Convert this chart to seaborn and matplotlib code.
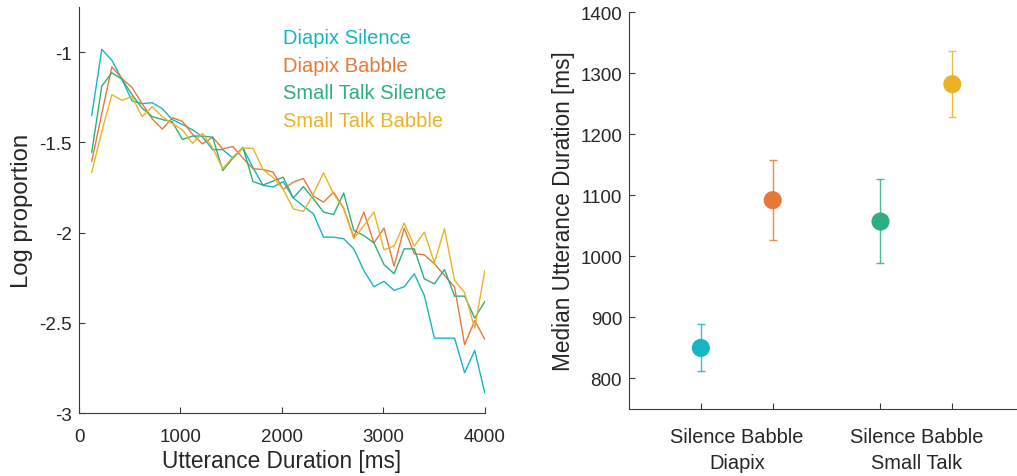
import numpy as np
import pandas as pd
import matplotlib
matplotlib.use("Agg")
import matplotlib.pyplot as plt
import seaborn as sns

# Utterance-duration histogram bins (ms) and log proportions per condition
durations = np.linspace(125, 4000, 40)

diapix_silence = [-1.352, -0.984, -1.045, -1.150, -1.270, -1.285, -1.280, -1.313, -1.374, -1.400,
                  -1.430, -1.470, -1.540, -1.540, -1.587, -1.530, -1.640, -1.738, -1.747, -1.718,
                  -1.808, -1.853, -1.896, -2.025, -2.025, -2.034, -2.090, -2.210, -2.300, -2.270,
                  -2.320, -2.300, -2.228, -2.349, -2.585, -2.585, -2.585, -2.777, -2.653, -2.888]
diapix_babble = [-1.606, -1.340, -1.081, -1.146, -1.196, -1.285, -1.369, -1.426, -1.364, -1.383,
                 -1.455, -1.508, -1.471, -1.536, -1.523, -1.587, -1.646, -1.650, -1.665, -1.760,
                 -1.720, -1.700, -1.798, -1.831, -1.776, -1.864, -2.025, -1.886, -2.057, -1.975,
                 -2.186, -1.975, -2.117, -2.123, -2.173, -2.237, -2.302, -2.621, -2.487, -2.592]
smalltalk_silence = [-1.556, -1.188, -1.114, -1.150, -1.235, -1.310, -1.357, -1.373, -1.386, -1.484,
                     -1.465, -1.465, -1.471, -1.656, -1.587, -1.527, -1.717, -1.736, -1.714, -1.693,
                     -1.808, -1.745, -1.813, -1.886, -1.900, -1.780, -1.988, -2.016, -2.057, -2.177,
                     -2.228, -2.090, -2.090, -2.256, -2.284, -2.204, -2.352, -2.352, -2.474, -2.382]
smalltalk_babble = [-1.667, -1.440, -1.235, -1.267, -1.246, -1.357, -1.302, -1.357, -1.396, -1.430,
                    -1.505, -1.450, -1.530, -1.646, -1.580, -1.532, -1.532, -1.650, -1.695, -1.760,
                    -1.868, -1.883, -1.785, -1.669, -1.785, -1.868, -2.034, -1.961, -1.886, -2.095,
                    -2.075, -1.947, -2.075, -1.997, -2.167, -1.979, -2.265, -2.333, -2.529, -2.210]

condition_names = ["Diapix Silence", "Diapix Babble", "Small Talk Silence", "Small Talk Babble"]
colors = ["#14B6C4", "#E7783A", "#2DAE7F", "#EDB224"]

# Median utterance duration with confidence bounds
tasks = ["Diapix", "Small Talk"]
conditions = ["Silence", "Babble"]
median_ms = [850, 1092, 1057, 1282]
lower_ms = [812, 1026, 989, 1228]
upper_ms = [890, 1158, 1126, 1336]

sns.set_theme(style="ticks")
plt.rcParams["font.family"] = ["Liberation Sans", "DejaVu Sans"]
ink = "#262626"
plt.rcParams.update({
    "axes.edgecolor": "#3a3a3a",
    "axes.linewidth": 0.8,
    "xtick.color": "#3a3a3a",
    "ytick.color": "#3a3a3a",
    "xtick.labelcolor": ink,
    "ytick.labelcolor": ink,
    "axes.labelcolor": ink,
    "xtick.direction": "in",
    "ytick.direction": "in",
    "xtick.major.size": 4,
    "ytick.major.size": 4,
    "xtick.major.width": 0.8,
    "ytick.major.width": 0.8,
})

fig = plt.figure(figsize=(10.17, 4.77), dpi=100)
ax1 = fig.add_axes([0.0777, 0.132, 0.399, 0.851])
ax2 = fig.add_axes([0.6185, 0.1405, 0.3815, 0.832])

# Left: distribution of utterance durations
series = [diapix_silence, diapix_babble, smalltalk_silence, smalltalk_babble]
long_df = pd.concat(
    [pd.DataFrame({"duration": durations, "logp": vals, "condition": name})
     for name, vals in zip(condition_names, series)],
    ignore_index=True,
)
sns.lineplot(data=long_df, x="duration", y="logp", hue="condition",
             hue_order=condition_names, palette=colors, linewidth=1.0, ax=ax1)
ax1.set_xlim(0, 4000)
ax1.set_ylim(-3, -0.75)
ax1.set_xticks([0, 1000, 2000, 3000, 4000])
ax1.set_yticks([-3, -2.5, -2, -1.5, -1])
ax1.set_yticklabels(["-3", "-2.5", "-2", "-1.5", "-1"])
ax1.tick_params(axis="y", labelsize=13.5, pad=5)
ax1.tick_params(axis="x", labelsize=13.5, pad=11)
ax1.set_xlabel("Utterance Duration [ms]", fontsize=16.3, labelpad=3)
ax1.set_ylabel("Log proportion", fontsize=17.2, labelpad=5)
sns.despine(ax=ax1)

handles, labels = ax1.get_legend_handles_labels()
for h in handles:
    h.set_visible(False)
ax1.legend(handles, labels, loc="upper left", bbox_to_anchor=(0.483, 0.968),
           frameon=False, handlelength=0, handletextpad=0, labelspacing=0.42,
           fontsize=14.5, labelcolor=colors, borderaxespad=0)

# Right: medians with error bars
positions = [ti * 2.5 + ci + 1 for ti in range(len(tasks)) for ci in range(len(conditions))]
point_df = pd.DataFrame({"pos": positions, "median": median_ms, "condition": condition_names})
for x, m, lo, hi, c in zip(positions, median_ms, lower_ms, upper_ms, colors):
    ax2.errorbar(x, m, yerr=[[m - lo], [hi - m]], fmt="none", ecolor=c,
                 elinewidth=1.0, capsize=3, capthick=1.0, alpha=0.85, zorder=2)
sns.scatterplot(data=point_df, x="pos", y="median", hue="condition",
                hue_order=condition_names, palette=colors, s=170,
                edgecolor="none", legend=False, ax=ax2, zorder=3)
ax2.set_xlim(0, 5.4)
ax2.set_ylim(750, 1400)
ax2.set_yticks(range(800, 1401, 100))
ax2.set_xticks(positions)
ax2.set_xticklabels([])
group_centers = [ti * 2.5 + 1.5 for ti in range(len(tasks))]
ax2.set_xticks(group_centers, minor=True)
ax2.set_xticklabels([f"{' '.join(conditions)}\n{t}" for t in tasks], minor=True,
                    fontsize=14.4, linespacing=1.45)
ax2.tick_params(axis="x", which="minor", length=0, pad=13)
ax2.tick_params(axis="y", labelsize=13.5, pad=5)
ax2.set_xlabel("")
ax2.set_ylabel("Median Utterance Duration [ms]", fontsize=16.3, labelpad=4)
sns.despine(ax=ax2)

fig.savefig("out.png", dpi=100)
